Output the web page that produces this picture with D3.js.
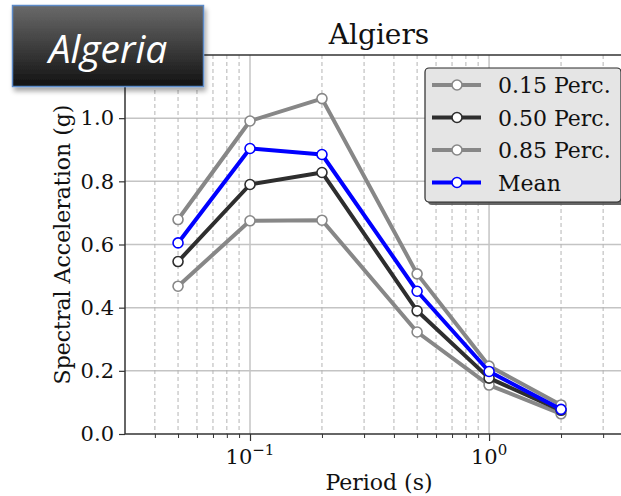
<!DOCTYPE html>
<html>
<head>
<meta charset="utf-8">
<script src="https://cdn.jsdelivr.net/npm/d3@7"></script>
<style>
  html, body { margin: 0; padding: 0; background: #fff; overflow: hidden; }
  svg { display: block; }
  text { font-family: "DejaVu Serif", serif; fill: #111; }
</style>
</head>
<body>
<div id="chart"></div>
<script>
// Response spectrum for Algiers: percentiles and mean of spectral acceleration
const periods = [0.05, 0.1, 0.2, 0.5, 1.0, 2.0];
const p15  = [0.468, 0.675, 0.677, 0.323, 0.155, 0.064];
const p50  = [0.546, 0.790, 0.828, 0.390, 0.177, 0.075];
const p85  = [0.679, 0.991, 1.062, 0.507, 0.215, 0.092];
const mean = [0.605, 0.904, 0.885, 0.452, 0.198, 0.078];
const seriesNames = ["0.15 Perc.", "0.50 Perc.", "0.85 Perc.", "Mean"];
const seriesColors = ["#878787", "#2e2e2e", "#878787", "#0000ff"];
const yTicks = [0.0, 0.2, 0.4, 0.6, 0.8, 1.0];
const xMajor = [0.1, 1];
const xMinor = [0.04, 0.05, 0.06, 0.07, 0.08, 0.09, 0.2, 0.3, 0.4, 0.5, 0.6, 0.7, 0.8, 0.9, 2, 3];

const W = 621, H = 496;
const m = {left: 125, right: 633, top: 55, bottom: 434};

const svg = d3.select("#chart").append("svg").attr("width", W).attr("height", H);
const defs = svg.append("defs");

const x = d3.scaleLog().domain([0.03, 4]).range([m.left, m.right]);
const y = d3.scaleLinear().domain([0, 1.2]).range([m.bottom, m.top]);

// grid
const grid = svg.append("g");
grid.selectAll(".ym").data(yTicks.slice(1)).join("line")
  .attr("x1", m.left).attr("x2", m.right)
  .attr("y1", d => y(d)).attr("y2", d => y(d))
  .attr("stroke", "#c4c4c4").attr("stroke-width", 1.5);
grid.selectAll(".xn").data(xMinor).join("line")
  .attr("x1", d => x(d)).attr("x2", d => x(d))
  .attr("y1", m.top).attr("y2", m.bottom)
  .attr("stroke", "#b4b4b4").attr("stroke-width", 1).attr("stroke-dasharray", "4,3");
grid.selectAll(".xm").data(xMajor).join("line")
  .attr("x1", d => x(d)).attr("x2", d => x(d))
  .attr("y1", m.top).attr("y2", m.bottom)
  .attr("stroke", "#c4c4c4").attr("stroke-width", 1.5);

// axes
const xAxis = d3.axisBottom(x).tickValues(xMajor).tickSize(7).tickFormat(() => "");
const gx = svg.append("g").attr("transform", `translate(0,${m.bottom})`).call(xAxis);
gx.select(".domain").remove();
gx.selectAll(".tick line").attr("stroke", "#333").attr("stroke-width", 1.2);
const xMinorAxis = d3.axisBottom(x).tickValues(xMinor).tickSize(4).tickFormat(() => "");
const gxm = svg.append("g").attr("transform", `translate(0,${m.bottom})`).call(xMinorAxis);
gxm.select(".domain").remove();
gxm.selectAll(".tick line").attr("stroke", "#333").attr("stroke-width", 1);

const exps = {0.1: "\u22121", 1: "0"};
xMajor.forEach(v => {
  const t = svg.append("text").attr("x", x(v)).attr("y", 464)
    .attr("text-anchor", "middle").attr("font-size", 21);
  t.append("tspan").text("10");
  t.append("tspan").attr("dy", -9).attr("font-size", 15).text(exps[v]);
});

const yAxis = d3.axisLeft(y).tickValues(yTicks).tickSize(6).tickPadding(5).tickFormat(d3.format(".1f"));
const gy = svg.append("g").attr("transform", `translate(${m.left},0)`).call(yAxis);
gy.select(".domain").remove();
gy.selectAll(".tick line").attr("stroke", "#333").attr("stroke-width", 1.2);
gy.selectAll(".tick text").attr("font-size", 21).attr("font-family", "DejaVu Serif").attr("fill", "#111");

// spines
svg.append("line").attr("x1", m.left).attr("x2", m.left).attr("y1", m.top).attr("y2", m.bottom)
  .attr("stroke", "#333").attr("stroke-width", 1.5);
svg.append("line").attr("x1", m.left).attr("x2", m.right).attr("y1", m.bottom).attr("y2", m.bottom)
  .attr("stroke", "#333").attr("stroke-width", 1.5);
svg.append("line").attr("x1", m.left).attr("x2", m.right).attr("y1", m.top).attr("y2", m.top)
  .attr("stroke", "#333").attr("stroke-width", 1.5);

// series
const allSeries = [p15, p50, p85, mean];
const line = d3.line().x(d => x(d.t)).y(d => y(d.v));
allSeries.forEach((vals, i) => {
  const pts = periods.map((t, j) => ({t, v: vals[j]}));
  const g = svg.append("g");
  g.append("path").datum(pts).attr("d", line)
    .attr("fill", "none").attr("stroke", seriesColors[i]).attr("stroke-width", 4)
    .attr("stroke-linejoin", "round");
  g.selectAll("circle").data(pts).join("circle")
    .attr("cx", d => x(d.t)).attr("cy", d => y(d.v)).attr("r", 5)
    .attr("fill", "#fff").attr("stroke", seriesColors[i]).attr("stroke-width", 1.6);
});

// titles
svg.append("text").attr("x", (m.left + m.right) / 2).attr("y", 44)
  .attr("text-anchor", "middle").attr("font-size", 28).text("Algiers");
svg.append("text").attr("x", 379).attr("y", 490)
  .attr("text-anchor", "middle").attr("font-size", 22).text("Period (s)");
svg.append("text").attr("transform", `translate(70,${(m.top + m.bottom) / 2}) rotate(-90)`)
  .attr("text-anchor", "middle").attr("font-size", 22).text("Spectral Acceleration (g)");

// legend
const lg = svg.append("g");
lg.append("rect").attr("x", 428).attr("y", 71).attr("width", 196).attr("height", 134)
  .attr("rx", 4).attr("fill", "#555").attr("opacity", 0.9);
lg.append("rect").attr("x", 425).attr("y", 68).attr("width", 196).attr("height", 134)
  .attr("rx", 4).attr("fill", "#e5e5e5").attr("stroke", "#2a2a2a").attr("stroke-width", 1.2);
seriesNames.forEach((name, i) => {
  const yy = 85 + i * 32.5;
  lg.append("line").attr("x1", 432).attr("x2", 481).attr("y1", yy).attr("y2", yy)
    .attr("stroke", seriesColors[i]).attr("stroke-width", 4);
  lg.append("circle").attr("cx", 457).attr("cy", yy).attr("r", 5)
    .attr("fill", "#fff").attr("stroke", seriesColors[i]).attr("stroke-width", 1.6);
  lg.append("text").attr("x", 498).attr("y", yy + 8).attr("font-size", 22).text(name);
});

// country badge
const grad = defs.append("linearGradient").attr("id", "badge").attr("x1", 0).attr("y1", 0).attr("x2", 0).attr("y2", 1);
grad.append("stop").attr("offset", "0%").attr("stop-color", "#6a6a6a");
grad.append("stop").attr("offset", "100%").attr("stop-color", "#121212");
const sh = defs.append("filter").attr("id", "shadow").attr("x", "-20%").attr("y", "-20%").attr("width", "140%").attr("height", "160%");
sh.append("feGaussianBlur").attr("in", "SourceAlpha").attr("stdDeviation", 2.5);
sh.append("feOffset").attr("dx", 2).attr("dy", 4).attr("result", "b");
sh.append("feComponentTransfer").append("feFuncA").attr("type", "linear").attr("slope", 0.35);
const mg = sh.append("feMerge");
mg.append("feMergeNode");
mg.append("feMergeNode").attr("in", "SourceGraphic");
svg.append("rect").attr("x", 12.5).attr("y", 5.5).attr("width", 191).attr("height", 81)
  .attr("fill", "url(#badge)").attr("stroke", "#5b8ac8").attr("stroke-width", 1.5)
  .attr("filter", "url(#shadow)");
svg.append("text").attr("x", 108).attr("y", 63).attr("text-anchor", "middle")
  .attr("font-size", 39).attr("font-style", "italic")
  .style("font-family", "'Open Sans', 'DejaVu Sans', sans-serif").style("fill", "#fff")
  .text("Algeria");
</script>
</body>
</html>
